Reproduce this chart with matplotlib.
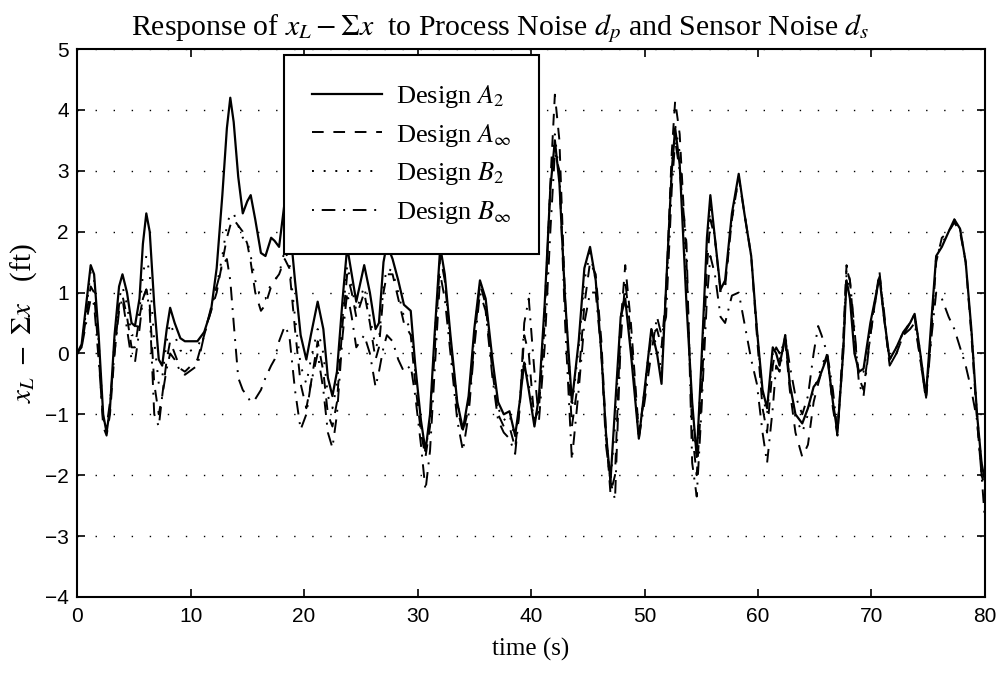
"""
Response of x_L - sum(x) to process and sensor noise, four controller designs.
Values read off the original figure (peaks/troughs plus a few slope points).
"""

import matplotlib
matplotlib.use('Agg')
import matplotlib.pyplot as plt
import numpy as np

# time (s), shared by all designs
t = [0.0, 0.4, 0.8, 1.2, 1.5, 1.9, 2.3, 2.6, 2.9, 3.3, 3.7, 4.0, 4.4, 4.8, 5.1,
     5.5, 5.8, 6.1, 6.4, 6.8, 7.2, 7.5, 7.9, 8.2, 8.6, 9.1, 9.5, 10.6, 11.2,
     11.8, 12.3, 12.8, 13.2, 13.5, 13.8, 14.2, 14.6, 15.0, 15.3, 15.7, 16.2,
     16.6, 17.1, 17.4, 17.8, 18.3, 18.7, 19.2, 19.7, 20.2, 20.6, 21.2, 21.7,
     22.1, 22.5, 22.9, 23.4, 23.8, 24.2, 24.6, 25.3, 25.8, 26.3, 26.6, 27.0,
     27.3, 27.8, 28.3, 28.8, 29.4, 29.8, 30.3, 30.7, 31.1, 31.5, 32.0, 32.4,
     32.9, 33.5, 34.0, 34.5, 35.0, 35.5, 36.0, 36.6, 37.1, 37.6, 38.1, 38.6,
     39.0, 39.4, 39.8, 40.3, 40.7, 41.2, 41.7, 42.1, 42.5, 43.0, 43.6, 44.2,
     44.7, 45.2, 45.7, 46.2, 46.6, 47.0, 47.4, 47.9, 48.3, 48.8, 49.5, 50.0,
     50.6, 51.1, 51.5, 51.9, 52.4, 52.7, 53.1, 53.7, 54.2, 54.6, 55.0, 55.5,
     55.8, 56.2, 56.7, 57.1, 57.7, 58.3, 58.8, 59.4, 59.9, 60.4, 60.8, 61.3,
     61.6, 61.9, 62.4, 62.8, 63.3, 63.9, 64.4, 64.9, 65.3, 65.6, 66.1, 66.6,
     67.0, 67.5, 67.8, 68.1, 68.5, 68.9, 69.3, 69.9, 70.7, 71.1, 71.6, 72.2,
     72.8, 73.4, 73.8, 74.3, 74.8, 75.3, 75.7, 76.2, 76.8, 77.3, 77.8, 78.3,
     78.8, 79.3, 79.7, 80.0]

# Design A_2 (solid)
a2 = [0.0, 0.15, 0.8, 1.45, 1.3, 0.3, -1.0, -1.3, -0.9, 0.3, 1.1, 1.3, 1.0, 0.5, 0.45,
      0.9, 1.8, 2.3, 2.0, 0.8, -0.1, -0.2, 0.4, 0.75, 0.5, 0.25, 0.2, 0.2, 0.35,
      0.7, 1.4, 2.6, 3.7, 4.2, 3.8, 2.9, 2.3, 2.5, 2.6, 2.2, 1.65,
      1.6, 1.9, 1.85, 1.75, 2.5, 2.2, 1.2, 0.3, -0.1, 0.3, 0.85, 0.4,
      -0.4, -0.7, -0.3, 0.9, 1.75, 1.3, 0.85, 1.45, 1.0, 0.4, 0.5, 1.5,
      1.8, 1.55, 1.2, 0.8, 0.7, -0.2, -1.1, -1.6, -1.0, 0.3, 1.75, 1.3,
      0.3, -0.8, -1.25, -0.7, 0.4, 1.2, 0.9, -0.1, -0.8, -1.0, -0.95, -1.35,
      -0.8, -0.15, -0.6, -1.2, -0.7, 0.8, 2.7, 3.5, 2.8, 0.9, -0.8, 0.2,
      1.4, 1.75, 1.2, 0.0, -1.3, -2.1, -0.9, 0.6, 0.9, 0.0, -1.4, -0.6,
      0.4, 0.0, -0.5, 1.1, 3.0, 3.7, 3.1, 0.8, -0.8, -1.7, -0.2, 1.9,
      2.6, 1.9, 1.05, 1.2, 2.3, 2.95, 2.3, 1.6, 0.4, -0.6, -0.9, 0.1,
      0.0, -0.2, 0.3, -0.5, -1.0, -1.15, -0.9, -0.55, -0.45, -0.3, -0.05, -0.8,
      -1.3, 0.0, 1.2, 0.9, 0.0, -0.3, -0.25, 0.5, 1.25, 0.6, -0.1, 0.1,
      0.35, 0.5, 0.65, 0.0, -0.7, 0.6, 1.6, 1.75, 2.0, 2.2, 2.05, 1.5,
      0.4, -1.0, -1.8, -2.1]

# Design A_inf (dashed)
a_inf = [0.0, 0.1, 0.6, 1.1, 1.0, 0.0, -1.2, -1.35, -1.0, 0.0, 0.8, 0.95, 0.6, 0.1, 0.1,
         0.6, 0.9, 1.05, 0.8, -0.5, -1.0, -0.7, -0.1, 0.2, 0.0, -0.25, -0.3, -0.1, 0.3,
         0.7, 1.0, 1.5, 1.9, 2.1, 2.2, 2.1, 2.0, 1.8, 1.5, 1.0, 0.7,
         0.8, 1.1, 1.2, 1.3, 1.55, 1.4, 0.4, -0.5, -0.9, -0.5, 0.2, -0.3,
         -1.0, -1.2, -0.8, 0.5, 1.3, 1.0, 0.6, 1.0, 0.5, -0.1, 0.1, 1.0,
         1.3, 1.3, 0.9, 0.5, 0.3, -0.5, -1.3, -1.7, -1.2, 0.0, 1.6, 1.2,
         0.2, -0.9, -1.3, -0.9, 0.2, 1.15, 0.8, -0.3, -1.0, -1.2, -1.2, -1.55,
         -0.9, 0.3, 0.0, -1.1, -0.9, 0.5, 2.8, 4.25, 3.5, 0.9, -1.2, -0.4,
         0.8, 1.5, 1.3, 0.2, -1.3, -2.3, -2.0, 0.5, 1.45, 0.5, -1.3, -0.7,
         0.3, 0.4, 0.1, 1.0, 3.3, 4.15, 3.6, 1.5, -1.3, -2.0, -0.8, 1.4,
         2.2, 1.9, 1.0, 1.1, 2.2, 2.9, 2.3, 1.6, 0.3, -0.9, -1.3, -0.2,
         0.1, 0.0, 0.2, -0.6, -1.3, -1.7, -1.5, -0.8, -0.5, -0.3, 0.0, -0.9,
         -1.35, 0.2, 1.45, 1.2, 0.3, -0.4, -0.6, 0.3, 1.35, 0.6, -0.2, 0.0,
         0.3, 0.5, 0.6, -0.1, -0.75, 0.4, 1.5, 1.9, 2.0, 2.15, 2.0, 1.5,
         0.3, -1.1, -2.0, -2.2]

# Design B_2 (dotted)
b2 = [0.0, 0.12, 0.7, 1.35, 1.2, 0.2, -1.05, -1.3, -0.9, 0.2, 0.9, 1.1, 0.8, 0.3, 0.3,
      0.7, 1.3, 1.6, 1.3, 0.2, -0.5, -0.4, 0.2, 0.5, 0.3, 0.05, 0.0, 0.1, 0.35,
      0.7, 1.1, 1.6, 2.1, 2.3, 2.3, 2.1, 1.9, 1.85, 1.6, 1.2, 0.9,
      0.9, 1.15, 1.2, 1.3, 1.7, 1.5, 0.6, -0.2, -0.5, -0.1, 0.4, 0.0,
      -0.7, -0.9, -0.5, 0.6, 1.45, 1.1, 0.7, 1.1, 0.6, 0.1, 0.2, 1.1,
      1.4, 1.35, 1.0, 0.6, 0.4, -0.3, -1.2, -1.6, -1.1, 0.2, 1.7, 1.2,
      0.2, -0.8, -1.25, -0.8, 0.3, 1.2, 0.85, -0.2, -0.9, -1.1, -1.0, -1.4,
      -0.8, -0.1, -0.5, -1.15, -0.8, 0.7, 2.7, 3.6, 2.9, 0.9, -0.9, 0.1,
      1.2, 1.65, 1.2, 0.0, -1.3, -2.1, -1.2, 0.6, 1.0, 0.1, -1.4, -0.6,
      0.4, 0.1, -0.3, 1.0, 3.1, 3.75, 3.3, 1.0, -0.9, -1.7, -0.3, 1.7,
      2.4, 1.9, 1.0, 1.1, 2.2, 2.9, 2.3, 1.6, 0.4, -0.7, -1.0, 0.0,
      0.0, -0.1, 0.3, -0.5, -1.05, -1.3, -1.0, -0.6, -0.4, -0.2, 0.0, -0.8,
      -1.3, 0.0, 1.3, 1.0, 0.1, -0.3, -0.3, 0.4, 1.3, 0.6, -0.1, 0.1,
      0.35, 0.5, 0.65, 0.0, -0.7, 0.5, 1.6, 1.8, 2.0, 2.2, 2.05, 1.5,
      0.4, -1.0, -1.85, -2.1]

# Design B_inf (dash-dot)
b_inf = [0.0, 0.1, 0.5, 0.9, 0.8, -0.1, -1.1, -1.2, -0.8, 0.0, 0.7, 0.9, 0.4, -0.1, -0.15,
         0.4, 0.9, 1.05, 0.7, -1.0, -1.2, -0.7, -0.25, 0.0, -0.1, -0.3, -0.35, -0.2, 0.3,
         0.75, 1.1, 1.45, 1.55, 1.2, 0.5, -0.4, -0.6, -0.7, -0.8, -0.75, -0.6,
         -0.4, -0.2, -0.1, 0.2, 0.45, 0.3, -0.6, -1.25, -1.0, -0.5, 0.0, -0.6,
         -1.3, -1.55, -1.0, 0.3, 1.0, 0.6, 0.1, 0.3, 0.0, -0.55, -0.3, 0.1,
         0.3, 0.2, -0.1, -0.3, -0.2, -0.7, -1.5, -2.25, -1.6, -0.3, 1.3, 0.9,
         0.0, -1.1, -1.6, -1.0, 0.1, 1.0, 0.7, -0.4, -1.1, -1.3, -1.4, -1.65,
         -0.9, 0.5, 0.9, -0.3, -1.1, 0.1, 2.0, 3.3, 3.0, 0.5, -1.75, -0.6,
         0.5, 1.0, 1.0, 0.0, -1.5, -2.1, -2.4, 0.2, 1.2, 0.3, -1.4, -0.8,
         0.0, 0.6, 0.3, 0.6, 2.7, 3.5, 3.0, 1.8, -1.8, -2.35, -1.0, 0.9,
         1.6, 1.3, 0.6, 0.5, 0.95, 1.0, 0.5, -0.1, -0.5, -1.3, -1.8, -0.9,
         -0.2, -0.3, 0.3, -0.2, -0.7, -1.0, -0.7, 0.0, 0.45, 0.3, 0.0, -0.6,
         -1.3, 0.0, 1.4, 1.2, 0.4, -0.5, -0.7, 0.3, 1.3, 0.7, -0.2, 0.0,
         0.3, 0.4, 0.5, -0.1, -0.75, 0.3, 1.0, 0.9, 0.6, 0.4, 0.1, -0.2,
         -0.6, -1.1, -2.0, -2.75]

xticks = [0, 10, 20, 30, 40, 50, 60, 70, 80]
yticks = [-4, -3, -2, -1, 0, 1, 2, 3, 4, 5]

# fonts: Times-like for text, Helvetica-like for tick numbers
plt.rcParams['mathtext.fontset'] = 'stix'
serif = ['Liberation Serif', 'DejaVu Serif']
tickfont = ['Liberation Sans', 'DejaVu Sans']

fig = plt.figure(figsize=(10.01, 6.75), dpi=100)
ax = fig.add_axes([0.077, 0.1156, 0.907, 0.8118])

lw = 1.4
ax.plot(t, a2, '-', color='k', linewidth=lw + 0.2, label=r'Design $A_2$')
ax.plot(t, a_inf, color='k', linewidth=lw, linestyle=(0, (6, 5)), label=r'Design $A_\infty$')
ax.plot(t, b2, color='k', linewidth=lw, linestyle=(0, (1, 5)), label=r'Design $B_2$')
ax.plot(t, b_inf, color='k', linewidth=lw, linestyle=(0, (1, 4, 7, 4)), label=r'Design $B_\infty$')

ax.set_xlim(0, 80)
ax.set_ylim(-4, 5)
ax.set_xticks(xticks)
ax.set_yticks(yticks)
ax.tick_params(direction='in', length=6, width=1.2, top=True, right=True)
ax.tick_params(axis='x', pad=7)
ax.tick_params(axis='y', pad=6)
for lab in ax.get_xticklabels() + ax.get_yticklabels():
    lab.set_family(tickfont)
    lab.set_fontsize(15)

ax.yaxis.grid(True, linestyle=(0, (1, 12)), color='k', linewidth=1.0)
ax.xaxis.grid(False)
for sp in ax.spines.values():
    sp.set_linewidth(1.5)

ax.set_title(r'Response of $x_L - \Sigma x$  to Process Noise $d_p$ and Sensor Noise $d_s$',
             family=serif, fontsize=21.5, pad=10, x=0.466)
ax.set_xlabel('time (s)', family=serif, fontsize=18, labelpad=9)
ax.set_ylabel(r'$x_L\ -\ \Sigma x$   (ft)', family=serif, fontsize=21, labelpad=4)

leg = ax.legend(loc='upper left', bbox_to_anchor=(0.228, 0.989),
                prop={'family': serif, 'size': 19}, handlelength=2.65,
                labelspacing=0.45, borderpad=1.05, handletextpad=0.55,
                fancybox=False, framealpha=1, borderaxespad=0)
leg.get_frame().set_edgecolor('k')
leg.get_frame().set_linewidth(1.5)

fig.savefig('out.png', dpi=100)
